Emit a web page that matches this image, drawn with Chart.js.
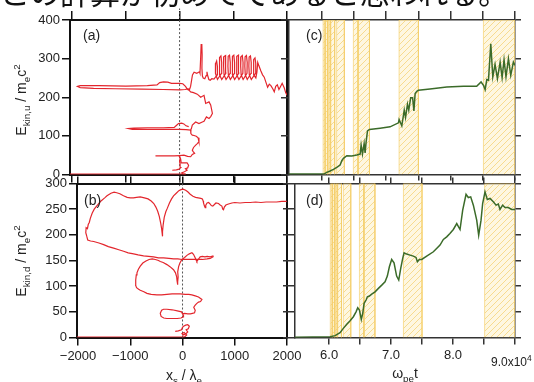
<!DOCTYPE html>
<html><head><meta charset="utf-8">
<script src="https://cdn.jsdelivr.net/npm/chart.js@4.4.1/dist/chart.umd.min.js"></script>
<style>
html,body{margin:0;padding:0;background:#fff;}
#wrap{position:relative;width:534px;height:382px;overflow:hidden;font-family:"Liberation Sans",Arial,sans-serif;background:#fff;}
canvas{position:absolute;left:0;top:0;}
.t{position:absolute;white-space:nowrap;color:#222;z-index:5;line-height:1;}
.rot{transform:translate(-50%,-50%) rotate(-90deg);}
.ctr{transform:translate(-50%,-50%);}
sub,sup{font-size:70%;line-height:0;}
</style></head><body>
<div id="wrap">
<div class="t" style="left:0px;top:-24px;font-family:'Noto Sans CJK JP';font-size:30px;line-height:30px;color:#111;">この計算が初めてであると思われる。</div>
<canvas id="ca" width="534" height="382"></canvas>
<canvas id="cb" width="534" height="382"></canvas>
<canvas id="cc" width="534" height="382"></canvas>
<canvas id="cd" width="534" height="382"></canvas>
<div class="t" style="left:83px;top:28px;font-size:14px;">(a)</div>
<div class="t" style="left:84px;top:193px;font-size:14px;">(b)</div>
<div class="t" style="left:306px;top:28px;font-size:14px;">(c)</div>
<div class="t" style="left:306px;top:193px;font-size:14px;">(d)</div>
<div class="t rot" style="left:21px;top:100px;font-size:14px;">E<sub>kin,u</sub> / m<sub>e</sub>c<sup>2</sup></div>
<div class="t rot" style="left:21px;top:261px;font-size:14px;">E<sub>kin,d</sub> / m<sub>e</sub>c<sup>2</sup></div>
<div class="t ctr" style="left:184px;top:375px;font-size:14px;">x<sub>s</sub> / λ<sub>e</sub></div>
<div class="t ctr" style="left:405px;top:373px;font-size:14px;">ω<sub>pe</sub>t</div>
<div class="t" style="left:491px;top:356px;font-size:12px;">9.0x10<sup>4</sup></div>
</div>
<script>
// ---------- DATA ----------
// panel (a): trajectories  [x_s / λ_e , E_kin,u]
const aBase = [[-2040,1],[100,1]];
const aUpper = [[180,222],[100,220],[0,219],[-300,220],[-700,221],[-1200,222],[-1600,223],[-1850,225],[-1900,228],[-1850,230],[-1500,230],[-1000,229],[-600,230],[-420,232],[-370,238],[-300,240],[-220,239],[-150,236],[-60,236],[0,236],[60,235],[110,228],[150,220],[180,218],[205,228],[225,245],[240,258],[270,265],[320,262],[370,266],[380,262],[392,300],[402,336],[414,338],[420,310],[416,275],[425,255],[440,250],[470,248],[495,256],[510,266],[520,258],[545,246],[570,244],[600,248],[640,247],
 [700,258],[704,280],[690,294],[672,288],[668,262],[705,246],
 [780,262],[784,290],[770,307],[745,303],[740,280],[748,258],[785,246],
 [860,262],[864,290],[850,308],[825,305],[820,280],[828,258],[865,246],
 [940,262],[944,290],[930,309],[905,306],[900,280],[908,258],[945,246],
 [1020,262],[1024,290],[1010,309],[985,306],[980,280],[988,258],[1025,246],
 [1100,262],[1104,290],[1090,309],[1065,306],[1060,280],[1068,258],[1105,246],
 [1178,262],[1182,290],[1168,308],[1143,305],[1138,280],[1146,258],[1183,246],
 [1255,262],[1259,290],[1245,308],[1220,305],[1215,280],[1223,258],[1260,246],
 [1330,262],[1334,290],[1320,307],[1295,304],[1290,280],[1298,258],[1335,246],
 [1414,262],[1418,288],[1404,302],[1380,298],[1375,278],[1383,258],[1420,250],
 [1440,265],[1455,290],[1475,282],[1514,268],[1545,258],[1576,252],[1610,238],[1639,226],[1670,234],[1700,230],[1735,222],[1763,214],[1790,228],[1820,232],[1850,220],[1880,228],[1910,236],[1950,224],[1975,212],[2000,205]];
const aMid = [[180,218],[206,214],[260,212],[330,208],[393,200],[455,205],[486,184],[548,188],[579,180],[611,158],[580,150],[548,145],[500,149],[455,138],[424,136],[361,132],[299,136],[237,128],[220,119],[206,115],[120,116],[0,117],[-300,117],[-600,117],[-880,117],[-947,119],[-850,120],[-600,121],[-300,121],[-100,122],[-60,127],[-20,132],[40,133],[80,131],[120,126],[170,124]];
const aLow = [[206,115],[210,106],[237,102],[270,101],[310,99],[345,95],[361,85],[330,80],[300,76],[260,70],[237,63],[250,60],[280,55],[237,52],[206,46],[150,47],[81,50],[0,49],[-100,48],[-300,48],[-449,48]];
const aZero = [[-136,11],[-60,12],[-10,14],[20,18],[10,26],[0,34],[10,44],[-10,48],[20,40],[30,30],[70,30],[140,30],[168,24],[150,17],[110,15],[140,11],[90,7],[40,4],[60,2],[120,1]];
// panel (b): trajectories [x_s / λ_e , E_kin,d]
const bBase = [[-2020,1],[30,1]];
const bArc = [[-1830,196],[-1852,204],[-1845,214],[-1820,212],[-1805,220],[-1785,224],[-1765,232],[-1730,242],[-1690,250],[-1637,257],[-1560,266],[-1490,272],[-1446,276],[-1370,281],[-1310,283],[-1260,282],[-1200,280],[-1130,276],[-1060,273],[-1000,272],[-940,272],[-880,273],[-809,274],[-730,272],[-660,270],[-600,266],[-550,261],[-510,254],[-475,246],[-445,236],[-420,224],[-400,212],[-390,203],[-386,197],[-380,206],[-370,220],[-350,234],[-320,245],[-290,252],[-250,262],[-210,270],[-172,276],[-120,281],[-70,286],[-30,288],[10,289],[60,287],[100,284],[147,279],[200,275],[250,273],[300,272],[350,271],[380,270],[395,266],[402,262],[420,256],[434,253],[445,258],[470,262],[500,263],[530,260],[550,257],[580,256],[610,259],[640,262],[690,261],[720,258],[753,256],[770,250],[784,249],[800,254],[830,258],[880,260],[945,262],[1000,263],[1100,262],[1200,263],[1294,263],[1400,264],[1500,263],[1600,264],[1700,264],[1800,264],[1900,265],[1996,265]];
const bLower = [[-1830,196],[-1815,190],[-1760,188],[-1700,187],[-1600,184],[-1510,181],[-1420,177],[-1319,174],[-1220,171],[-1128,168],[-1040,165],[-937,163],[-850,161],[-746,159],[-650,158],[-554,157],[-460,155],[-363,155],[-260,154],[-172,153],[-90,153],[-11,152],[80,152],[180,152],[280,152],[380,152],[470,153],[530,154],[593,158]];
const bMid = [[-902,103],[-896,112],[-885,122],[-872,126],[-845,133],[-809,139],[-760,145],[-700,149],[-640,152],[-580,153],[-520,152],[-460,150],[-426,148],[-370,146],[-298,142],[-240,138],[-172,132],[-135,126],[-112,118],[-104,110],[-98,103],[-88,108],[-84,118],[-92,128],[-75,138],[-50,145],[-11,152],[40,156],[84,160],[130,163],[180,165],[210,162],[240,156],[260,151],[275,148],[300,152],[338,157],[380,158],[430,157],[470,158],[530,157],[593,159]];
const bMidLow = [[-902,103],[-880,97],[-840,94],[-809,92],[-740,89],[-681,86],[-600,84],[-490,83],[-400,83],[-300,84],[-200,85],[-100,85],[-44,85],[50,84],[120,84],[179,83],[243,81],[306,79],[371,74],[345,70],[306,69],[270,66],[243,63],[215,59],[243,53],[230,48],[190,47],[150,46],[100,46],[40,47],[0,46]];
const bLoop = [[0,46],[-20,50],[-100,52],[-200,54],[-300,55],[-363,55],[-400,53],[-426,47],[-410,41],[-360,38],[-300,37],[-200,37],[-100,37],[-30,38],[10,40],[19,43],[0,46]];
const bZero = [[-140,12],[-80,13],[-20,15],[0,20],[20,22],[60,24],[100,25],[130,22],[110,17],[70,15],[100,11],[60,7],[10,5],[-10,8],[30,10],[80,5],[50,2],[20,1]];
// panels (c),(d): time series  (ω_pe t in units of 10^4)
const cTime = [5.49,6.03,6.077,6.129,6.18,6.232,6.284,6.31,6.336,6.388,6.465,6.543,6.595,6.61,6.631,6.657,6.672,6.688,6.709,6.74,6.905,7.06,7.19,7.2,7.242,7.28,7.30,7.33,7.35,7.38,7.41,7.43,7.449,7.475,7.50,7.68,7.94,8.20,8.405,8.473,8.51,8.536,8.562,8.588,8.624,8.655,8.69,8.727,8.769,8.80,8.83,8.86,8.898,8.934,8.975,9.0];
const cEkin = [1,1,5.6,9,13.3,18.5,24.5,35.7,41.7,48.6,47.7,50.3,52.9,76,53,80.4,56,84.7,113,116.6,120,123.4,133.8,142.4,126,166.5,147.5,182,166.5,199,199,164.7,209.5,215.5,218,221.5,226.7,228.4,228.4,239.6,231,219.8,245.6,244,338.5,252.5,285,248,291,250.8,297,252.5,299.8,256.8,291,282.6];
const dTime = [5.45,6.016,6.097,6.177,6.23,6.285,6.339,6.392,6.435,6.462,6.49,6.52,6.543,6.565,6.597,6.618,6.65,6.688,6.742,6.796,6.85,6.903,6.94,6.973,7.01,7.048,7.09,7.124,7.156,7.188,7.21,7.253,7.306,7.36,7.403,7.425,7.457,7.495,7.575,7.683,7.79,7.844,7.898,7.95,8.005,8.06,8.113,8.156,8.21,8.247,8.285,8.328,8.382,8.414,8.452,8.478,8.516,8.553,8.597,8.65,8.694,8.731,8.758,8.8,8.839,8.892,8.946,9.0];
const dEkin = [0.5,1.6,3.6,9.4,17.8,26,32.7,40.5,50,58,53.5,35.3,47,66.5,73,79.4,80.7,84.6,89,95.7,102,108.6,119.6,137.8,152,145.6,119.6,111.9,134.6,154,165,162.5,160.5,158.6,156,147.5,152,152,158.6,167,180,191,196,202.7,210.4,222,210.4,248,279,272.7,274,257.8,228.6,199.4,228.6,261,283.7,268.8,270.8,264.3,257.8,260,249.4,257.8,253.2,253.2,249.4,249.4];
const bandStart = [6.02,6.06,6.10,6.14,6.23,6.49,6.57,7.20,8.51];
const bandEnd   = [6.05,6.09,6.13,6.20,6.35,6.56,6.74,7.50,9.0];
// ticks
const xsTicks = [-2000,-1000,0,1000,2000];
const xsLabels = ['−2000','−1000','0','1000','2000'];
const aYTicks = [0,100,200,300,400];
const aYLabels = ['0','100','200','300','400'];
const bYTicks = [0,50,100,150,200,250,300];
const bYLabels = ['0','50','100','150','200','250','300'];
const tTicks = [6.0,6.5,7.0,7.5,8.0,8.5,9.0];
const tLabels = ['6.0','','7.0','','8.0','',''];

// ---------- DRAWING ----------
Chart.defaults.font.family = "'Liberation Sans', Arial, sans-serif";
const RED = '#e3262d', GREEN = '#3b6b29';
function fitTo(size){ return s => { if (s.isHorizontal()) s.height = size; else s.width = size; s.paddingLeft = s.paddingRight = s.paddingTop = s.paddingBottom = 0; }; }
function tickAt(vals){ return s => { s.ticks = vals.map(v => ({value: v})); }; }
function ax(o){
  return {
    type:'linear', position:o.pos, min:o.min, max:o.max, axis:o.axis,
    afterBuildTicks: tickAt(o.ticks), afterFit: fitTo(o.size),
    grid:{display:true, drawOnChartArea:false, drawTicks:true, tickLength:o.tl, tickWidth:o.tw, tickColor:o.color, color:o.color, lineWidth:o.tw},
    border:{display:true, color:o.color, width:o.bw},
    ticks:{display:!!o.labels, callback:o.labels ? ((v,i) => o.labels[i]) : undefined,
      font:{size:13}, color:'#222', padding:o.pad==null?2:o.pad, autoSkip:false, maxRotation:0, minRotation:0}
  };
}
function traj(arr){ return {data: arr.map(p => ({x:p[0], y:p[1]})), borderColor:RED, borderWidth:1.2, pointRadius:0, fill:false, tension:0, order:0}; }
function dotted(ymin, ymax){ return {data:[{x:0,y:ymin},{x:0,y:ymax}], borderColor:'#555', borderWidth:1, borderDash:[2,2], pointRadius:0, fill:false, order:1, clip:false}; }
function series(ts, es){ return {data: ts.map((t,i) => ({x:t, y:es[i]})), borderColor:GREEN, borderWidth:1.5, pointRadius:0, fill:false, tension:0, order:0}; }
function hatch(){
  const c = document.createElement('canvas'); c.width = 6; c.height = 6;
  const g = c.getContext('2d');
  g.fillStyle = 'rgba(254,242,205,0.6)'; g.fillRect(0,0,6,6);
  g.strokeStyle = 'rgba(245,208,110,0.7)'; g.lineWidth = 1;
  g.beginPath(); g.moveTo(0,6); g.lineTo(6,0); g.moveTo(-1,1); g.lineTo(1,-1); g.moveTo(5,7); g.lineTo(7,5); g.stroke();
  return g.createPattern(c,'repeat');
}
const pat = hatch();
function bands(ymax){
  return bandStart.map((s,i) => ({data:[{x:s,y:0},{x:s,y:ymax},{x:bandEnd[i],y:ymax},{x:bandEnd[i],y:0}],
    borderColor:'rgba(245,205,100,0.65)', borderWidth:1, backgroundColor:pat, fill:'origin', pointRadius:0, tension:0, order:2}));
}
function make(id, datasets, scales, padding){
  return new Chart(document.getElementById(id), {
    type:'line', data:{datasets},
    options:{responsive:false, animation:false, events:[], layout:{padding},
      plugins:{legend:{display:false}, tooltip:{enabled:false}}, scales}
  });
}
const K = '#111', G = '#333';
// (a)
make('ca', [traj(aBase), traj(aUpper), traj(aMid), traj(aLow), traj(aZero), dotted(-30,430)], {
  x: ax({pos:'bottom', axis:'x', min:-2040, max:2000, ticks:xsTicks, size:207.5, tl:8, tw:1.5, color:K, bw:2}),
  xt: ax({pos:'top', axis:'x', min:-2040, max:2000, ticks:xsTicks, size:20, tl:9, tw:1.5, color:K, bw:2}),
  y: ax({pos:'left', axis:'y', min:0, max:400, ticks:aYTicks, labels:aYLabels, size:70, tl:8, tw:1.5, color:K, bw:2}),
  yr: ax({pos:'right', axis:'y', min:0, max:400, ticks:[], size:0, tl:0, tw:1.5, color:K, bw:2})
}, {left:0, top:0, right:247, bottom:0});
// (b)
make('cb', [traj(bBase), traj(bArc), traj(bLower), traj(bMid), traj(bMidLow), traj(bLoop), traj(bZero), dotted(0,300)], {
  x: ax({pos:'bottom', axis:'x', min:-2020, max:2000, ticks:xsTicks, labels:xsLabels, size:44.5, tl:8, tw:1.5, color:K, bw:2, pad:3}),
  xt: ax({pos:'top', axis:'x', min:-2020, max:2000, ticks:xsTicks, size:8.5, tl:7, tw:1.5, color:K, bw:2}),
  y: ax({pos:'left', axis:'y', min:0, max:300, ticks:bYTicks, labels:bYLabels, size:77, tl:8, tw:1.5, color:K, bw:2}),
  yr: ax({pos:'right', axis:'y', min:0, max:300, ticks:[], size:0, tl:0, tw:1.5, color:K, bw:2})
}, {left:0, top:175, right:247, bottom:0});
// (c)
make('cc', [series(cTime, cEkin)].concat(bands(400)), {
  x: ax({pos:'bottom', axis:'x', min:5.49, max:9.0, ticks:tTicks, size:207.5, tl:6, tw:1.5, color:G, bw:1.5}),
  xt: ax({pos:'top', axis:'x', min:5.49, max:9.0, ticks:tTicks, size:20, tl:9, tw:1.5, color:G, bw:1.5}),
  y: ax({pos:'left', axis:'y', min:0, max:400, ticks:aYTicks, size:8, tl:8, tw:1.5, color:G, bw:1.5}),
  yr: ax({pos:'right', axis:'y', min:0, max:400, ticks:aYTicks, size:6, tl:6, tw:1.5, color:G, bw:1.5})
}, {left:281, top:0, right:13, bottom:0});
// (d)
make('cd', [series(dTime, dEkin)].concat(bands(300)), {
  x: ax({pos:'bottom', axis:'x', min:5.45, max:9.0, ticks:tTicks, labels:tLabels, size:44.5, tl:7, tw:1.5, color:G, bw:1.5, pad:3}),
  xt: ax({pos:'top', axis:'x', min:5.45, max:9.0, ticks:tTicks, size:8.5, tl:6, tw:1.5, color:G, bw:1.5}),
  y: ax({pos:'left', axis:'y', min:0, max:300, ticks:bYTicks, size:12, tl:12, tw:1.5, color:G, bw:1.5}),
  yr: ax({pos:'right', axis:'y', min:0, max:300, ticks:bYTicks, size:6, tl:6, tw:1.5, color:G, bw:1.5})
}, {left:283, top:175, right:13, bottom:0});
</script>
</body></html>
